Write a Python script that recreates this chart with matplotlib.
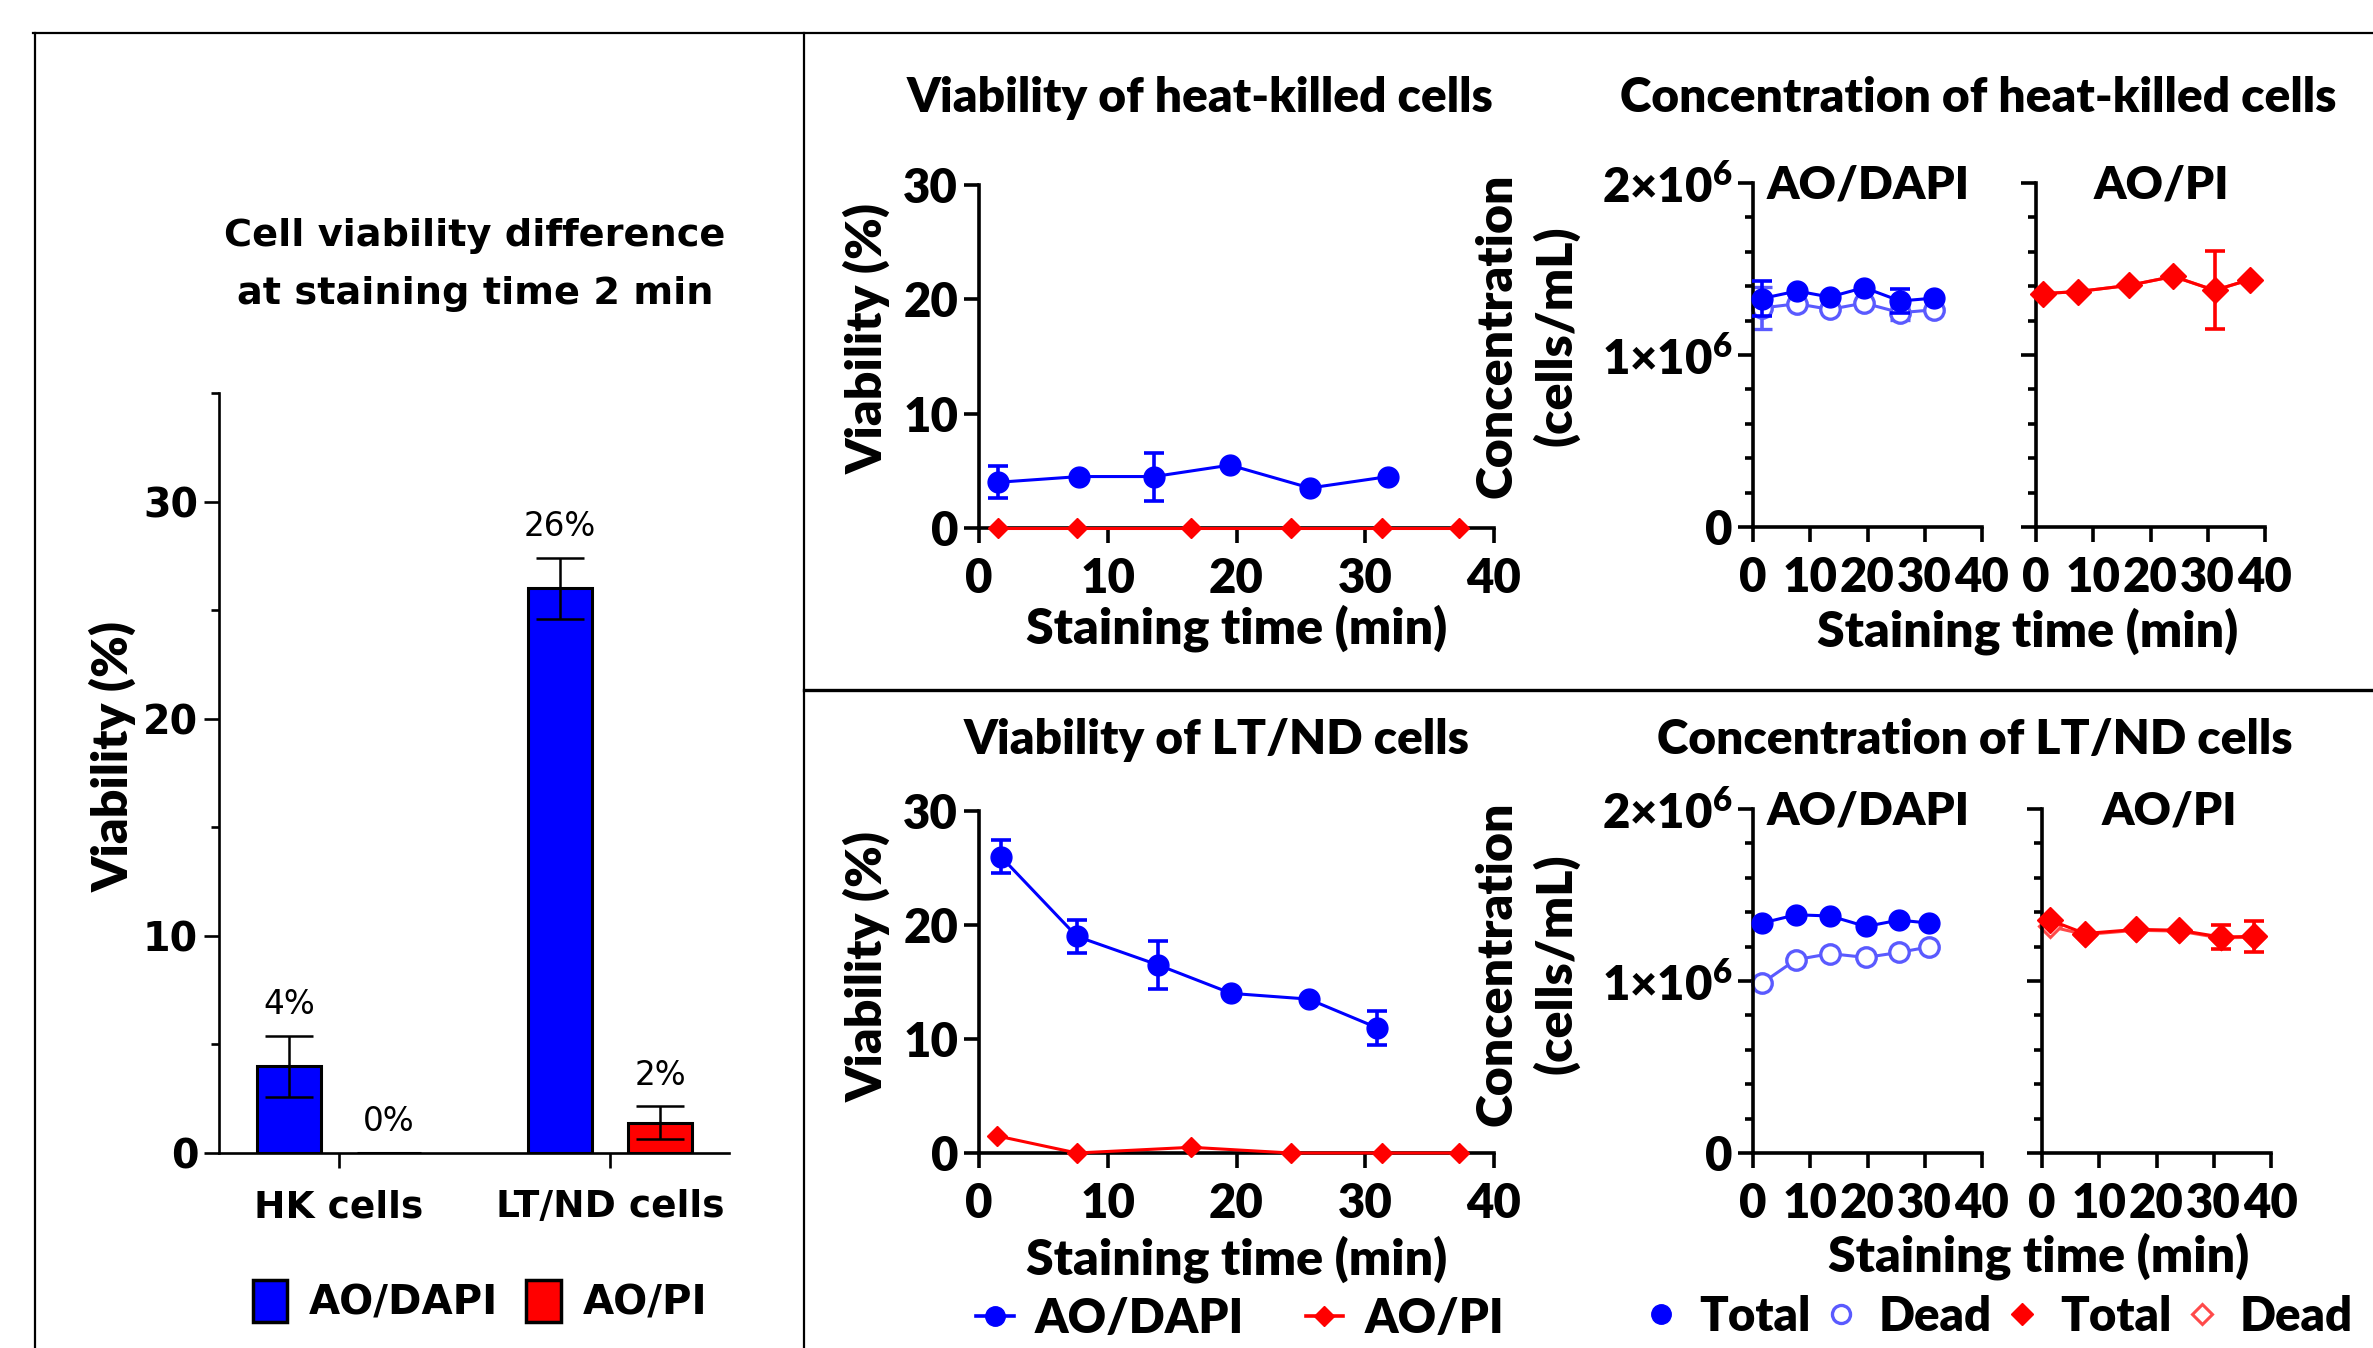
import numpy as np
import matplotlib
matplotlib.use("Agg")
import matplotlib.pyplot as plt
from matplotlib.lines import Line2D
from matplotlib.patches import Patch

plt.rcParams['font.family'] = ['Lato', 'DejaVu Sans']
plt.rcParams['font.weight'] = 'heavy'
plt.rcParams['mathtext.fontset'] = 'custom'
plt.rcParams['mathtext.rm'] = 'Lato:heavy'
plt.rcParams['mathtext.it'] = 'Lato:heavy'
plt.rcParams['mathtext.bf'] = 'Lato:heavy'

BLUE = '#0000FF'
LBLUE = '#5A5AFF'
RED = '#FF0000'
LRED = '#FF4A4A'

# ---- painel esquerdo: barras a 2 min ----
groups = ['HK cells', 'LT/ND cells']
bar_dapi = [4.0, 26.0]
bar_dapi_err = [1.4, 1.4]
bar_pi = [0.0, 1.4]
bar_pi_err = [0.0, 0.75]
bar_dapi_txt = ['4%', '26%']
bar_pi_txt = ['0%', '2%']

# ---- viabilidade (%) vs tempo ----
hk_v_dapi_t = [1.5, 7.8, 13.6, 19.5, 25.7, 31.8]
hk_v_dapi = [4.0, 4.5, 4.5, 5.5, 3.5, 4.5]
hk_v_dapi_err = [1.4, 0, 2.1, 0, 0, 0]
hk_v_pi_t = [1.5, 7.6, 16.5, 24.2, 31.3, 37.3]
hk_v_pi = [0, 0, 0, 0, 0, 0]

lt_v_dapi_t = [1.7, 7.6, 13.9, 19.6, 25.6, 30.9]
lt_v_dapi = [26.0, 19.0, 16.5, 14.0, 13.5, 11.0]
lt_v_dapi_err = [1.45, 1.45, 2.1, 0, 0, 1.5]
lt_v_pi_t = [1.4, 7.6, 16.5, 24.2, 31.3, 37.3]
lt_v_pi = [1.5, 0, 0.5, 0, 0, 0]

# ---- concentracao (x10^6 cells/mL) vs tempo ----
hk_c_dapi_t = [1.5, 7.7, 13.4, 19.4, 25.7, 31.7]
hk_c_dapi_total = [1.328, 1.372, 1.337, 1.392, 1.314, 1.331]
hk_c_dapi_total_err = [0.10, 0, 0, 0, 0.07, 0]
hk_c_dapi_dead = [1.273, 1.298, 1.265, 1.302, 1.246, 1.263]
hk_c_dapi_dead_err = [0.12, 0, 0, 0, 0.04, 0]
hk_c_pi_t = [1.3, 7.4, 16.3, 24.0, 31.2, 37.3]
hk_c_pi_total = [1.357, 1.369, 1.405, 1.457, 1.376, 1.438]
hk_c_pi_total_err = [0, 0, 0, 0, 0.226, 0]
hk_c_pi_dead = [1.357, 1.369, 1.405, 1.457, 1.376, 1.438]

lt_c_dapi_t = [1.6, 7.5, 13.5, 19.7, 25.5, 30.7]
lt_c_dapi_total = [1.337, 1.385, 1.378, 1.317, 1.354, 1.337]
lt_c_dapi_dead = [0.988, 1.124, 1.159, 1.137, 1.166, 1.198]
lt_c_pi_t = [1.4, 7.5, 16.5, 24.0, 31.2, 37.1]
lt_c_pi_total = [1.354, 1.276, 1.300, 1.295, 1.256, 1.259]
lt_c_pi_total_err = [0, 0, 0, 0, 0.07, 0.09]
lt_c_pi_dead = [1.317, 1.270, 1.295, 1.290, 1.250, 1.255]

W, H = 2373, 1348
fig = plt.figure(figsize=(W / 100, H / 100), dpi=100)


def box(x0, y0, x1, y1):
    # converte pixels (origem no topo) em fracao da figura
    return [x0 / W, 1 - y1 / H, (x1 - x0) / W, (y1 - y0) / H]


def ftext(x, y, s, **kw):
    fig.text(x / W, 1 - y / H, s, ha='center', va='center', **kw)


# molduras
for (xa, ya, xb, yb, lw) in [(33, 33, W, 33, 1.6), (35, 33, 35, H, 1.6),
                             (804, 33, 804, H, 1.6), (804, 690, W, 690, 2.4)]:
    fig.add_artist(Line2D([xa / W, xb / W], [1 - ya / H, 1 - yb / H], color='black',
                          lw=lw, transform=fig.transFigure))

# ================= painel esquerdo =================
DV = 'DejaVu Sans'
ax = fig.add_axes(box(219, 393, 729, 1153))
x = np.arange(len(groups))
off, bw = 0.185, 0.236
ax.bar(x - off, bar_dapi, bw, color=BLUE, edgecolor='black', lw=2.2, zorder=2)
ax.bar(x + off, bar_pi, bw, color=RED, edgecolor='black', lw=2.2, zorder=2)
ax.errorbar(x - off, bar_dapi, yerr=bar_dapi_err, fmt='none', ecolor='black',
            elinewidth=1.8, capsize=17, capthick=1.8, zorder=3)
ax.errorbar(x[1:] + off, bar_pi[1:], yerr=bar_pi_err[1:], fmt='none', ecolor='black',
            elinewidth=1.8, capsize=17, capthick=1.8, zorder=3)
for i in range(len(groups)):
    ax.annotate(bar_dapi_txt[i], (x[i] - off, bar_dapi[i] + bar_dapi_err[i]),
                xytext=(0, 22.5), textcoords='offset points', ha='center', va='center',
                fontsize=23.5, family=DV, fontweight='normal')
    ax.annotate(bar_pi_txt[i], (x[i] + off, bar_pi[i] + bar_pi_err[i]),
                xytext=(0, 22.5), textcoords='offset points', ha='center', va='center',
                fontsize=23.5, family=DV, fontweight='normal')
ax.set_xlim(-0.443, 1.439)
ax.set_ylim(0, 35)
ax.set_yticks([0, 10, 20, 30])
ax.set_yticks([5, 15, 25, 35], minor=True)
ax.set_xticks(x)
ax.set_xticklabels(groups)
for s in ['top', 'right']:
    ax.spines[s].set_visible(False)
for s in ['left', 'bottom']:
    ax.spines[s].set_linewidth(1.9)
ax.tick_params(axis='both', which='major', direction='out', length=11, width=1.9,
               labelsize=28.5, pad=4)
ax.tick_params(axis='x', pad=15, labelsize=27)
ax.tick_params(axis='y', which='minor', direction='out', length=6, width=1.9)
for lab in ax.get_xticklabels() + ax.get_yticklabels():
    lab.set_family(DV)
    lab.set_fontweight('bold')
ftext(113, 757, 'Viability (%)', rotation=90, fontsize=36)
ftext(475, 265, 'Cell viability difference\nat staining time 2 min', fontsize=27.5,
      family=DV, fontweight='bold', linespacing=1.75)
fig.legend([Patch(facecolor=BLUE, edgecolor='black', lw=2.5),
            Patch(facecolor=RED, edgecolor='black', lw=2.5)], ['AO/DAPI', 'AO/PI'],
           loc='center', bbox_to_anchor=(480 / W, 1 - 1302 / H), ncol=2, frameon=False,
           prop={'family': DV, 'weight': 'bold', 'size': 29}, handlelength=0.85,
           handleheight=1.2, handletextpad=0.55, columnspacing=0.7)


# ================= viabilidade vs tempo =================
def style_axis(a, lw=2.6, size=34):
    for s in ['top', 'right']:
        a.spines[s].set_visible(False)
    for s in ['left', 'bottom']:
        a.spines[s].set_linewidth(lw)
    a.tick_params(axis='both', which='major', direction='out', length=11, width=lw,
                  labelsize=size)
    a.tick_params(axis='x', pad=10)
    a.tick_params(axis='y', pad=4)


def viab_panel(ybox, td, vd, ed, tp, vp):
    a = fig.add_axes(box(979, ybox[0], 1494, ybox[1]))
    a.errorbar(td, vd, yerr=ed, color=BLUE, lw=2.2, marker='o', ms=15, capsize=7,
               elinewidth=2.6, capthick=2.6, clip_on=False, zorder=3)
    a.plot(tp, vp, color=RED, lw=2.2, marker='D', ms=10, clip_on=False, zorder=4)
    a.set_xlim(0, 40)
    a.set_ylim(0, 30)
    a.set_xticks([0, 10, 20, 30, 40])
    a.set_yticks([0, 10, 20, 30])
    style_axis(a)
    return a


viab_panel((185, 528), hk_v_dapi_t, hk_v_dapi, hk_v_dapi_err, hk_v_pi_t, hk_v_pi)
viab_panel((811, 1153), lt_v_dapi_t, lt_v_dapi, lt_v_dapi_err, lt_v_pi_t, lt_v_pi)

TS = 34.5
LS = 36
ftext(1200, 98, 'Viability of heat-killed cells', fontsize=TS)
ftext(1217, 740, 'Viability of LT/ND cells', fontsize=TS)
for yc in [339, 966]:
    ftext(867, yc, 'Viability (%)', rotation=90, fontsize=LS)
ftext(1237, 628, 'Staining time (min)', fontsize=LS)
ftext(1237, 1259, 'Staining time (min)', fontsize=LS)


# ================= concentracao vs tempo =================
def conc_panel(xb, ybox, t, tot, tot_err, dead, dead_err, dapi, show_y):
    a = fig.add_axes(box(xb[0], ybox[0], xb[1], ybox[1]))
    t = np.array(t)
    if dapi:
        a.errorbar(t, np.array(dead) * 1e6, yerr=np.array(dead_err) * 1e6, color=LBLUE,
                   lw=2.2, marker='o', ms=14, mfc='white', mec=LBLUE, mew=2.4,
                   capsize=7, elinewidth=2.6, capthick=2.6, clip_on=False, zorder=2)
        a.errorbar(t, np.array(tot) * 1e6, yerr=np.array(tot_err) * 1e6, color=BLUE,
                   lw=2.2, marker='o', ms=15, capsize=7, elinewidth=2.6, capthick=2.6,
                   clip_on=False, zorder=3)
    else:
        a.plot(t, np.array(dead) * 1e6, color=LRED, lw=2.2, marker='D', ms=11,
               mfc='white', mec=LRED, mew=2.2, clip_on=False, zorder=2)
        a.errorbar(t, np.array(tot) * 1e6, yerr=np.array(tot_err) * 1e6, color=RED,
                   lw=2.2, marker='D', ms=13, capsize=7, elinewidth=2.6, capthick=2.6,
                   clip_on=False, zorder=3)
    a.set_xlim(0, 40)
    a.set_ylim(0, 2e6)
    a.set_xticks([0, 10, 20, 30, 40])
    a.set_yticks([0, 1e6, 2e6])
    a.set_yticks(np.arange(0.2e6, 2e6, 0.2e6), minor=True)
    style_axis(a, size=34)
    a.tick_params(axis='y', which='minor', direction='out', length=6, width=2.6)
    if show_y:
        a.set_yticklabels(['0', '1×10$^6$', '2×10$^6$'])
    else:
        a.set_yticklabels([])
    return a


DX = (1753, 1982)
conc_panel(DX, (183, 527), hk_c_dapi_t, hk_c_dapi_total, hk_c_dapi_total_err,
           hk_c_dapi_dead, hk_c_dapi_dead_err, True, True)
conc_panel((2036, 2265), (183, 527), hk_c_pi_t, hk_c_pi_total, hk_c_pi_total_err,
           hk_c_pi_dead, None, False, False)
conc_panel(DX, (809, 1153), lt_c_dapi_t, lt_c_dapi_total, [0] * 6,
           lt_c_dapi_dead, [0] * 6, True, True)
conc_panel((2042, 2271), (809, 1153), lt_c_pi_t, lt_c_pi_total, lt_c_pi_total_err,
           lt_c_pi_dead, None, False, False)

ftext(1978, 98, 'Concentration of heat-killed cells', fontsize=TS)
ftext(1975, 740, 'Concentration of LT/ND cells', fontsize=TS)
for yc in [336, 964]:
    ftext(1527, yc, 'Concentration\n(cells/mL)', rotation=90, fontsize=LS, linespacing=1.3)
ftext(2028, 631, 'Staining time (min)', fontsize=LS)
ftext(2039, 1256, 'Staining time (min)', fontsize=LS)
for yc in [185, 811]:
    ftext(1868, yc, 'AO/DAPI', fontsize=33)
ftext(2161, 185, 'AO/PI', fontsize=33)
ftext(2169, 811, 'AO/PI', fontsize=33)

# legendas inferiores
fig.legend([Line2D([], [], color=BLUE, lw=2.6, marker='o', ms=14),
            Line2D([], [], color=RED, lw=2.6, marker='D', ms=10)],
           ['AO/DAPI', 'AO/PI'], loc='center', bbox_to_anchor=(1240 / W, 1 - 1319 / H),
           ncol=2, frameon=False, fontsize=34, handlelength=0.8, handletextpad=0.45,
           columnspacing=1.3)
fig.legend([Line2D([], [], ls='none', color=BLUE, marker='o', ms=14),
            Line2D([], [], ls='none', marker='o', ms=13, mfc='white', mec=LBLUE, mew=2.4),
            Line2D([], [], ls='none', color=RED, marker='D', ms=11),
            Line2D([], [], ls='none', marker='D', ms=10, mfc='white', mec=LRED, mew=2.2)],
           ['Total', 'Dead', 'Total', 'Dead'], loc='center',
           bbox_to_anchor=(2000 / W, 1 - 1317 / H), ncol=4, frameon=False, fontsize=34,
           handlelength=0.6, handletextpad=0.5, columnspacing=0.35)

fig.savefig('out.png', dpi=100)
